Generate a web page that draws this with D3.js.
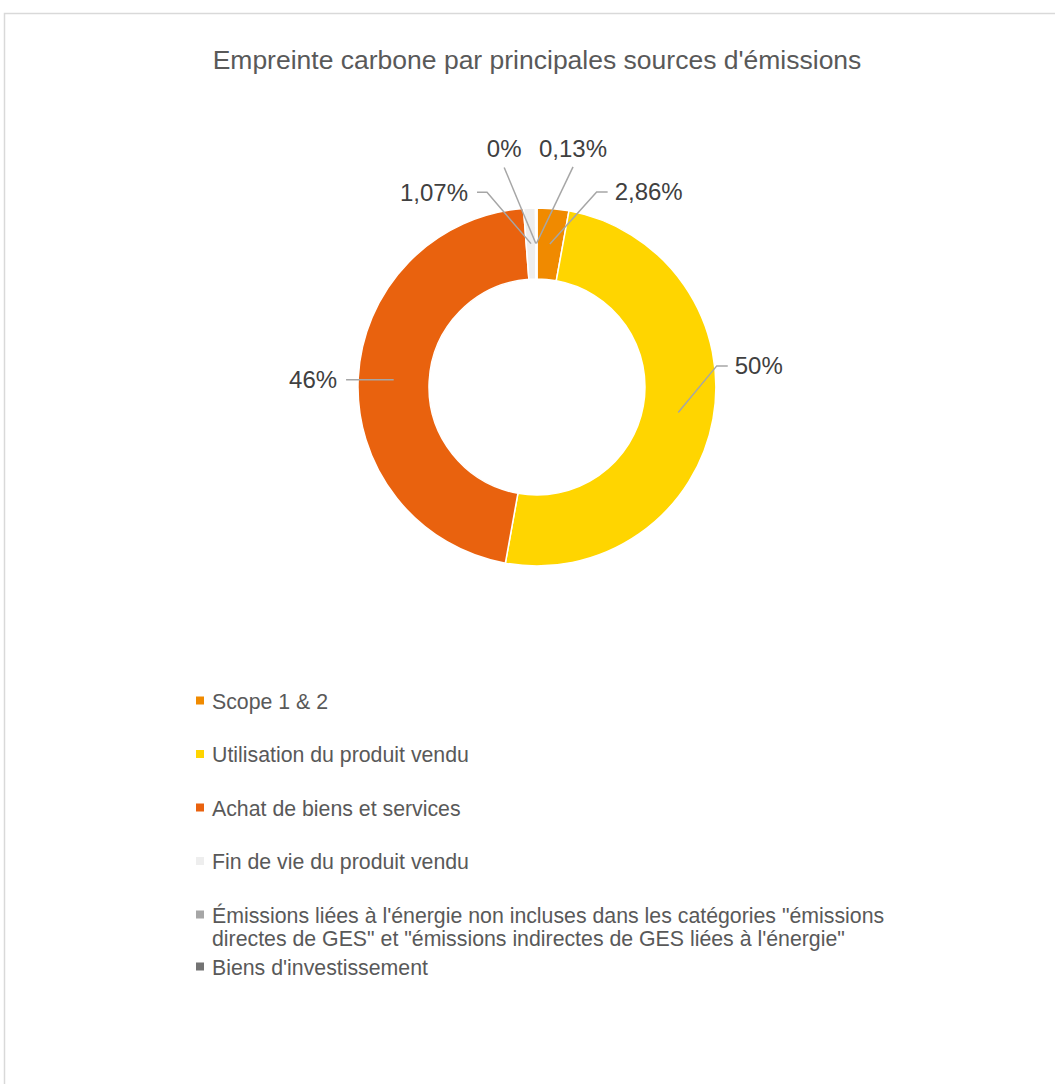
<!DOCTYPE html>
<html>
<head>
<meta charset="utf-8">
<script src="https://cdn.jsdelivr.net/npm/d3@7"></script>
<style>
  html, body { margin: 0; padding: 0; background: #fff; }
  svg { display: block; }
</style>
</head>
<body>
<svg id="chart" width="1055" height="1084"></svg>
<script>
// Emission sources, in drawing order (clockwise from 12 o'clock)
const categories = [
  "Scope 1 & 2",
  "Utilisation du produit vendu",
  "Achat de biens et services",
  "Fin de vie du produit vendu",
  "Émissions liées à l'énergie non incluses dans les catégories \"émissions directes de GES\" et \"émissions indirectes de GES liées à l'énergie\"",
  "Biens d'investissement"
];
// Share of the carbon footprint, in percent
const shares = [2.86, 50, 46, 1.07, 0, 0.13];
// Data label text as printed
const shareLabels = ["2,86%", "50%", "46%", "1,07%", "0%", "0,13%"];
// Legend text, split into lines
const legendLines = [
  ["Scope 1 & 2"],
  ["Utilisation du produit vendu"],
  ["Achat de biens et services"],
  ["Fin de vie du produit vendu"],
  ["Émissions liées à l'énergie non incluses dans les catégories \"émissions",
   "directes de GES\" et \"émissions indirectes de GES liées à l'énergie\""],
  ["Biens d'investissement"]
];
const colors = ["#F08A00", "#FFD500", "#E9620E", "#EEEEEE", "#A6A6A6", "#737373"];
const title = "Empreinte carbone par principales sources d'émissions";

const svg = d3.select("#chart");
const W = 1055, H = 1084;
const cx = 537, cy = 387;
const rOuter = 179, rInner = 108;

// chart frame
svg.append("rect")
  .attr("x", 4.5).attr("y", 13.5)
  .attr("width", W + 20).attr("height", H + 20)
  .attr("fill", "#fff")
  .attr("stroke", "#D9D9D9").attr("stroke-width", 1.5);

svg.append("text")
  .attr("x", cx).attr("y", 69)
  .attr("text-anchor", "middle")
  .attr("font-family", "Liberation Sans, Arial, sans-serif")
  .attr("font-size", 26.5)
  .attr("fill", "#595959")
  .text(title);

const data = categories.map((c, i) => ({ name: c, value: shares[i], label: shareLabels[i], color: colors[i] }));

const pie = d3.pie().sort(null).value(d => d.value);
const arcs = pie(data);
const arc = d3.arc().innerRadius(rInner).outerRadius(rOuter);
const mid = d3.arc().innerRadius((rInner + rOuter) / 2).outerRadius((rInner + rOuter) / 2);

const g = svg.append("g").attr("transform", `translate(${cx},${cy})`);

g.selectAll("path.slice")
  .data(arcs)
  .join("path")
  .attr("class", "slice")
  .attr("d", arc)
  .attr("fill", d => d.data.color)
  .attr("stroke", "#fff")
  .attr("stroke-width", 1.5);

// label placement: elbow point in polar form (degrees clockwise from top, radius),
// horizontal tail length and side of the text
const labelPlacement = [
  { angle: 17, r: 204, tail: 11, side: "right" },
  { angle: 83.3, r: 181, tail: 11, side: "right" },
  { angle: 271.5, r: 191, tail: 0, side: "left" },
  { angle: -14.4, r: 201, tail: 10, side: "left" },
  { angle: -8.5, r: 222, tail: 0, side: "top" },
  { angle: 9.3, r: 223, tail: 0, side: "top" }
];

const polar = (deg, r) => {
  const a = deg * Math.PI / 180;
  return [r * Math.sin(a), -r * Math.cos(a)];
};

arcs.forEach((d, i) => {
  const p = labelPlacement[i];
  const [ax, ay] = mid.centroid(d);
  let [ex, ey] = polar(p.angle, p.r);
  if (p.side === "left" && p.tail === 0) ey = ay;
  const pts = [[ax, ay], [ex, ey]];
  let tx, ty, anchor;
  if (p.side === "right") {
    pts.push([ex + p.tail, ey]);
    tx = ex + p.tail + 7; ty = ey + 8.5; anchor = "start";
  } else if (p.side === "left") {
    pts.push([ex - p.tail, ey]);
    tx = ex - p.tail - 9; ty = ey + 8.5; anchor = "end";
  } else {
    tx = ex; ty = ey - 10; anchor = "middle";
  }
  g.append("path")
    .attr("d", d3.line()(pts))
    .attr("fill", "none")
    .attr("stroke", "#A6A6A6")
    .attr("stroke-width", 1.5);
  g.append("text")
    .attr("x", tx).attr("y", ty)
    .attr("text-anchor", anchor)
    .attr("font-family", "Liberation Sans, Arial, sans-serif")
    .attr("font-size", 24)
    .attr("fill", "#404040")
    .text(d.data.label);
});

// legend
const legendX = 196, legendTop = 701, rowGap = 53.5, lineGap = 23;
let y = legendTop;
const legend = svg.append("g");
data.forEach((d, i) => {
  const lines = legendLines[i];
  legend.append("rect")
    .attr("x", legendX).attr("y", y - 4.5)
    .attr("width", 8).attr("height", 8)
    .attr("fill", d.color);
  const t = legend.append("text")
    .attr("font-family", "Liberation Sans, Arial, sans-serif")
    .attr("font-size", 21.3)
    .attr("fill", "#595959");
  lines.forEach((ln, k) => {
    t.append("tspan").attr("x", legendX + 16).attr("y", y + 7.5 + k * lineGap).text(ln);
  });
  y += (i === 4 ? lineGap + 29 : rowGap);
});
</script>
</body>
</html>
